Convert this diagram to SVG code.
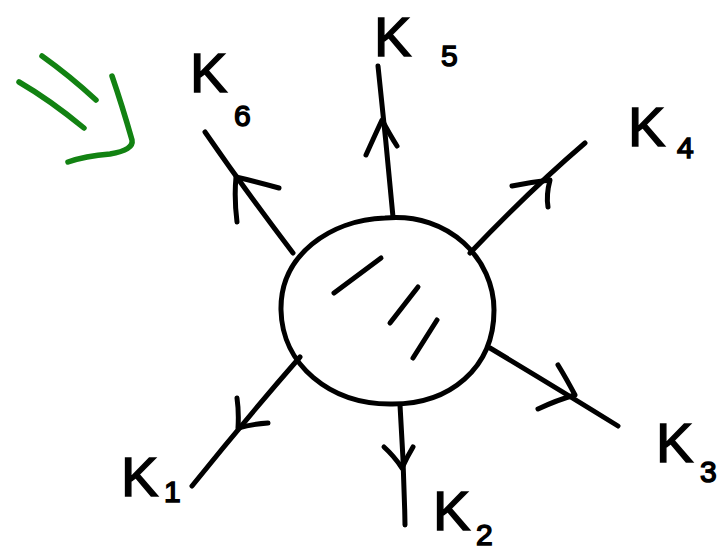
<svg xmlns="http://www.w3.org/2000/svg" width="726" height="554" viewBox="0 0 726 554">
<style>
.s{fill:none;stroke:#000;stroke-width:5;stroke-linecap:round;stroke-linejoin:round}
.g{fill:none;stroke:#128212;stroke-width:5.5;stroke-linecap:round;stroke-linejoin:round}
.k{font-family:"Liberation Sans",sans-serif;font-size:56px;fill:#000;stroke:#000;stroke-width:1.5}
.n{font-family:"Liberation Sans",sans-serif;font-size:30px;fill:#000;stroke:#000;stroke-width:1.5}
</style>
<rect width="726" height="554" fill="#fff"/>
<g id="connectors">
<path class="s" d="M393,217 Q386,140 378,66"/>
<path class="s" d="M366,155 Q375,135 382,120 Q390,135 397,146"/>
<path class="s" d="M470,253 Q530,190 585,143"/>
<path class="s" d="M512,186 Q532,182 550,180 Q546,195 548,207"/>
<path class="s" d="M293,253 Q245,190 205,132"/>
<path class="s" d="M237,222 Q234,198 236,177 Q258,182 279,188"/>
<path class="s" d="M490,348 Q560,390 618,426"/>
<path class="s" d="M538,409 Q557,400 575,395 Q566,378 558,365"/>
<path class="s" d="M400,405 Q404,465 405,525"/>
<path class="s" d="M384,447 Q394,456 402,468 Q407,457 413,447"/>
<path class="s" d="M300,357 Q245,420 192,486"/>
<path class="s" d="M237,398 Q239,412 238,428 Q253,424 268,423"/>
</g>
<g id="body">
<path class="s" d="M385,218 C450,212 494,260 494,310 C494,368 450,405 390,404 C330,404 282,365 281,310 C280,255 330,220 385,218 Z"/>
<path class="s" d="M334,293 L381,258"/>
<path class="s" d="M390,323 L418,287"/>
<path class="s" d="M413,358 L437,320"/>
</g>
<g id="hint">
<path class="g" d="M19,82 Q50,100 84,128"/>
<path class="g" d="M42,56 Q70,76 96,100"/>
<path class="g" d="M112,76 Q122,105 132,140 Q134,150 110,154 Q85,156 68,162"/>
</g>
<g id="K6"><text class="k" x="190" y="92">K</text><text class="n" x="234" y="126">6</text></g>
<g id="K5"><text class="k" x="374" y="56">K</text><text class="n" x="441" y="66">5</text></g>
<g id="K4"><text class="k" x="628" y="146">K</text><text class="n" x="677" y="158">4</text></g>
<g id="K3"><text class="k" x="656" y="462">K</text><text class="n" x="700" y="482">3</text></g>
<g id="K2"><text class="k" x="433" y="530">K</text><text class="n" x="476" y="545">2</text></g>
<g id="K1"><text class="k" x="121" y="496">K</text><text class="n" x="164" y="502">1</text></g>
</svg>
